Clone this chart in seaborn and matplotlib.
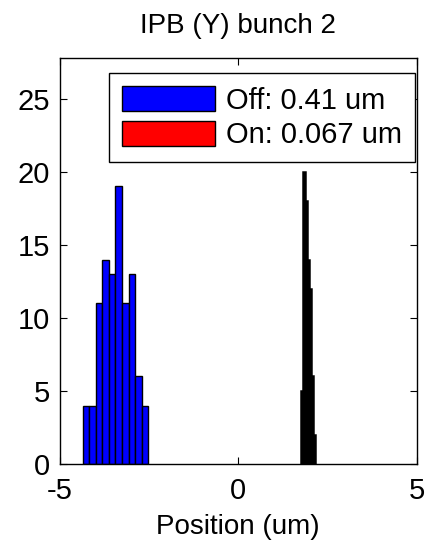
import matplotlib
matplotlib.use("Agg")
import matplotlib.pyplot as plt
import numpy as np
import pandas as pd
import seaborn as sns

# histogram bin counts
off_edges = np.linspace(-4.35, -2.52, 11)
off_counts = [4, 4, 11, 14, 13, 19, 11, 13, 6, 4]
on_edges = np.linspace(1.755, 2.145, 8)
on_counts = [5, 20, 18, 14, 12, 6, 2]

labels = ["Off: 0.41 um", "On: 0.067 um"]
title = "IPB (Y) bunch 2"
xticks = [-5, 0, 5]
yticks = [0, 5, 10, 15, 20, 25]

sns.set_style("white")
plt.rcParams["font.family"] = ["Liberation Sans", "DejaVu Sans"]
plt.rcParams["axes.unicode_minus"] = False
plt.rcParams["text.color"] = "black"
plt.rcParams["axes.labelcolor"] = "black"
plt.rcParams["xtick.color"] = "black"
plt.rcParams["ytick.color"] = "black"

fig = plt.figure(figsize=(4.25, 5.4), dpi=100)
ax = fig.add_axes([0.14, 0.1407, 0.841, 0.752])

off_df = pd.DataFrame({"pos": (off_edges[:-1] + off_edges[1:]) / 2, "n": off_counts})
on_df = pd.DataFrame({"pos": (on_edges[:-1] + on_edges[1:]) / 2, "n": on_counts})
sns.histplot(data=off_df, x="pos", weights="n", bins=list(off_edges), color="#0000ff",
             edgecolor="black", linewidth=1, alpha=1, ax=ax, label=labels[0])
sns.histplot(data=on_df, x="pos", weights="n", bins=list(on_edges), color="#ff0000",
             edgecolor="black", linewidth=1.8, alpha=1, ax=ax, label=labels[1])

ax.set_xlim(-5, 5)
ax.set_ylim(0, 27.8)
ax.set_xticks(xticks)
ax.set_yticks(yticks)
ax.set_ylabel("")
ax.set_xlabel("Position (um)", fontsize=20, labelpad=7)
ax.set_title(title, fontsize=20, pad=18)
ax.tick_params(direction="in", length=5, width=0.8, labelsize=21,
               top=True, right=True, bottom=True, left=True)
ax.tick_params(axis="x", pad=9)
ax.tick_params(axis="y", pad=7)
for s in ax.spines.values():
    s.set_color("black")
    s.set_linewidth(1)

leg = ax.legend(loc="upper right", bbox_to_anchor=(0.994, 0.963), fontsize=21,
                fancybox=False, framealpha=1, edgecolor="black",
                handlelength=3.2, handleheight=0.95, handletextpad=0.35,
                borderaxespad=0, borderpad=0.45, labelspacing=0.2)
leg.get_frame().set_linewidth(1)
for h in leg.legend_handles:
    h.set_linewidth(1)

fig.savefig("out.png", dpi=100)
